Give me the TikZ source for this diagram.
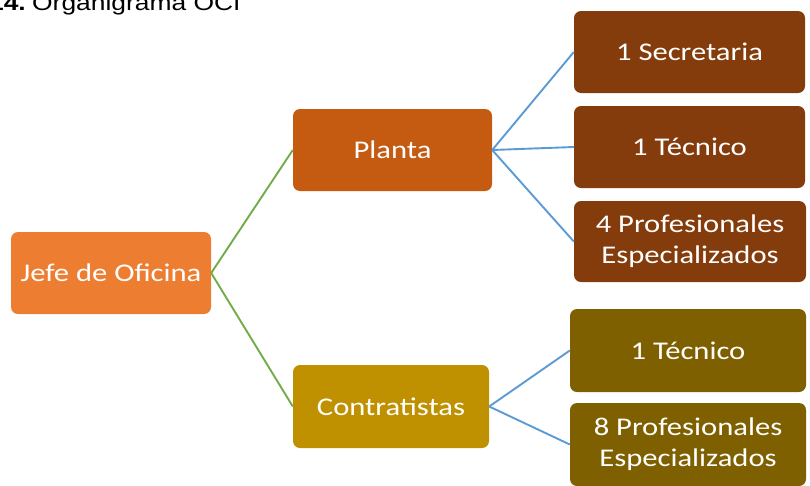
\documentclass[tikz,border=0pt]{standalone}
\usepackage{fontspec}
\setmainfont{Carlito}
\newfontfamily\boxfont[FakeStretch=1.2]{Carlito}
\newfontfamily\titlefont[FakeStretch=1.2]{Liberation Sans}
\definecolor{cJefe}{HTML}{ED7D31}
\definecolor{cPlanta}{HTML}{C55A11}
\definecolor{cBrown}{HTML}{843C0C}
\definecolor{cContr}{HTML}{BF9000}
\definecolor{cOlive}{HTML}{7F6000}
\definecolor{cGreen}{HTML}{70AD47}
\definecolor{cBlue}{HTML}{5B9BD5}
\tikzset{
  orgbox/.style={rounded corners=7pt, inner sep=0pt, text=white, align=center,
    font=\boxfont\fontsize{25.5pt}{31pt}\selectfont, minimum height=82pt},
  greenline/.style={draw=cGreen, line width=1.9pt},
  blueline/.style={draw=cBlue, line width=1.9pt},
  titletext/.style={inner sep=0pt, font=\titlefont\fontsize{22pt}{26pt}\selectfont}
}
\begin{document}
\begin{tikzpicture}[x=1pt,y=-1pt]
\useasboundingbox (0,0) rectangle (810,485);
\clip (0,0) rectangle (810,485);
% title (clipped at the top, as in the reference)
\node[titletext, anchor=base east] (tnum) at (26,10.5) {\bfseries 14.};
\node[titletext, anchor=base west] (ttext) at (32,10.5) {Organigrama OCI};
% boxes
\node[orgbox, fill=cJefe, minimum width=200pt] (jefe) at (111,273) {Jefe de Oficina};
\node[orgbox, fill=cPlanta, minimum width=199pt] (planta) at (392.5,150) {Planta};
\node[orgbox, fill=cContr, minimum width=196pt, minimum height=83pt] (contr) at (391,406.5) {Contratistas};
\node[orgbox, fill=cBrown, minimum width=231pt] (sec) at (689.5,52) {1 Secretaria};
\node[orgbox, fill=cBrown, minimum width=231pt] (tec1) at (689.5,147) {1 Técnico};
\node[orgbox, fill=cBrown, minimum width=232pt, minimum height=81pt] (prof4) at (690,241.5) {4 Profesionales\\Especializados};
\node[orgbox, fill=cOlive, minimum width=236pt, minimum height=83pt] (tec2) at (688,350.5) {1 Técnico};
\node[orgbox, fill=cOlive, minimum width=236pt, minimum height=83pt] (prof8) at (688,444.5) {8 Profesionales\\Especializados};
% connectors
\draw[greenline] (jefe.east) -- (planta.west);
\draw[greenline] (jefe.east) -- (contr.west);
\draw[blueline] (planta.east) -- (sec.west);
\draw[blueline] (planta.east) -- (tec1.west);
\draw[blueline] (planta.east) -- (prof4.west);
\draw[blueline] (contr.east) -- (tec2.west);
\draw[blueline] (contr.east) -- (prof8.west);
\end{tikzpicture}
\end{document}
